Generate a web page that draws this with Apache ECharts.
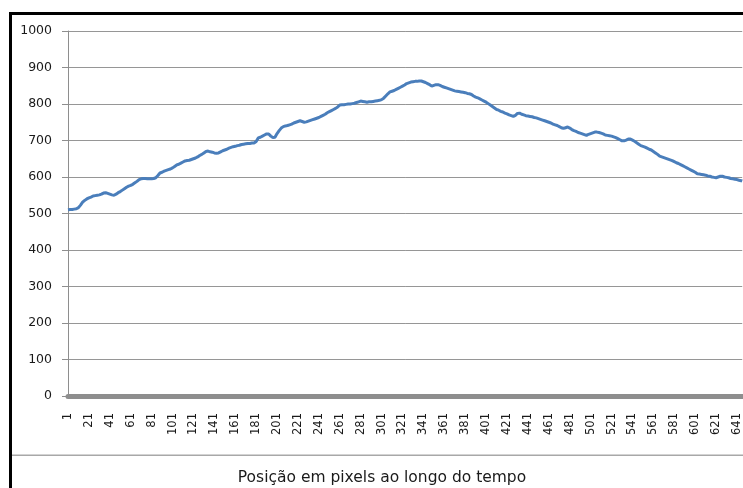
<!DOCTYPE html>
<html>
<head>
<meta charset="utf-8">
<style>
  html, body { margin: 0; padding: 0; background: #ffffff; }
  #chart { width: 743px; height: 488px; }
</style>
<script src="https://cdn.jsdelivr.net/npm/echarts@6/dist/echarts.min.js"></script>
</head>
<body>
<div id="chart"></div>
<script>
// Pixel position sampled at each time step (one value per frame, 646 frames)
const posicao = [
  510,510,511,511,511,512,512,512,513,514, 516,519,523,527,531,534,536,538,540,542,
  543,544,545,546,548,548,549,549,550,550, 551,552,553,555,556,557,557,556,555,554,
  553,552,551,550,550,551,553,555,557,558, 560,562,564,566,568,570,572,573,575,576,
  577,579,580,582,584,586,588,590,593,594, 595,595,596,596,596,596,595,595,595,595,
  595,596,596,597,598,601,604,608,611,612, 613,614,616,617,618,619,620,621,622,623,
  625,627,629,632,633,634,635,636,638,639, 641,643,644,644,645,645,646,647,648,649,
  650,651,652,654,655,657,659,660,662,664, 666,668,670,672,671,670,669,668,668,667,
  666,666,665,665,666,668,669,671,672,673, 674,675,676,678,679,680,681,682,683,683,
  684,685,686,687,687,688,689,690,690,691, 691,691,692,692,692,692,693,693,693,693,
  697,702,707,708,709,710,712,714,715,717, 718,719,718,716,712,710,708,705,709,714,
  719,723,727,731,734,737,738,739,740,740, 741,742,743,744,745,746,748,749,750,751,
  752,753,754,753,752,751,750,749,751,752, 753,754,755,756,757,758,759,760,761,762,
  763,764,766,767,769,771,772,774,776,777, 779,780,782,783,785,786,788,790,792,794,
  797,797,798,798,798,799,799,799,800,800, 800,800,801,801,802,803,804,805,806,807,
  808,808,807,807,806,806,805,805,806,806, 806,807,807,807,808,808,809,809,810,810,
  812,814,816,819,822,825,828,831,833,834, 835,836,837,838,840,841,843,844,846,847,
  849,850,852,854,856,857,858,859,860,860, 861,861,862,862,862,863,863,863,863,862,
  861,860,859,857,856,854,853,851,849,850, 851,852,853,854,853,852,851,850,848,847,
  846,845,844,843,842,841,840,839,838,837, 836,836,835,835,834,834,833,833,832,832,
  831,830,829,828,828,827,826,824,822,821, 819,818,817,815,814,812,811,809,808,806,
  805,803,801,799,797,795,793,791,789,787, 785,784,783,781,780,779,778,777,775,774,
  773,771,770,769,768,767,766,767,769,771, 774,776,775,774,772,771,770,769,768,768,
  767,767,766,765,765,764,763,763,762,761, 760,759,758,757,756,755,754,753,752,751,
  750,749,748,746,745,744,743,742,741,740, 738,736,735,733,733,734,735,736,737,736,
  734,732,730,728,727,726,725,724,722,721, 720,719,718,717,716,715,714,715,717,718,
  719,720,721,722,723,723,723,723,722,721, 720,719,718,716,715,715,714,714,713,713,
  712,711,710,709,708,706,705,703,702,700, 699,698,699,700,701,703,704,705,704,702,
  701,699,698,696,694,692,690,688,686,685, 684,683,682,680,679,677,676,675,674,672,
  670,668,666,664,662,660,657,656,655,654, 653,652,651,650,649,648,647,646,645,643,
  642,641,639,638,637,635,634,632,631,630, 628,627,625,624,622,621,619,618,616,614,
  613,611,609,608,608,607,607,606,606,605, 605,604,603,602,602,601,600,599,599,598,
  598,599,600,601,602,602,602,601,600,599, 599,598,598,597,596,596,595,595,594,593,
  593,592,591,590,590,589
];

// Frame numbers along the horizontal axis (1, 2, 3, ...)
const quadros = posicao.map((_, i) => String(i + 1));

// Vertical axis range
const yMin = 0;
const yMax = 1000;
const yStep = 100;

const legenda = 'Posição em pixels ao longo do tempo';

const chart = echarts.init(document.getElementById('chart'), null, { renderer: 'canvas' });

chart.setOption({
  backgroundColor: '#ffffff',
  animation: false,
  grid: { left: 68, top: 31, right: 0, bottom: 92, containLabel: false },
  xAxis: {
    type: 'category',
    data: quadros,
    boundaryGap: false,
    offset: 3,
    axisLine: { show: true, lineStyle: { color: '#8e8e8e', width: 5 } },
    axisTick: { show: false },
    splitLine: { show: false },
    axisLabel: {
      interval: 19,
      rotate: 90,
      margin: 14,
      color: '#1a1a1a',
      fontFamily: 'DejaVu Sans',
      fontSize: 11.5
    }
  },
  yAxis: {
    type: 'value',
    min: yMin,
    max: yMax,
    interval: yStep,
    axisLine: { show: true, lineStyle: { color: '#8e8e8e', width: 1 } },
    axisTick: { show: true, length: 6, lineStyle: { color: '#8e8e8e', width: 1 } },
    splitLine: { show: true, lineStyle: { color: '#969696', width: 1 } },
    axisLabel: {
      margin: 16,
      color: '#1a1a1a',
      fontFamily: 'DejaVu Sans',
      fontSize: 12.5,
      formatter: (v) => String(v)
    }
  },
  series: [{
    type: 'line',
    data: posicao,
    showSymbol: false,
    symbol: 'none',
    lineStyle: { color: '#4a7ebb', width: 3 },
    z: 5
  }],
  graphic: [
    // frame: heavy top and left edges
    { type: 'rect', shape: { x: 9, y: 12, width: 734, height: 3 }, style: { fill: '#000000' }, silent: true },
    { type: 'rect', shape: { x: 9, y: 12, width: 3, height: 476 }, style: { fill: '#000000' }, silent: true },
    // separator above the caption
    { type: 'rect', shape: { x: 12, y: 454.5, width: 731, height: 1.5 }, style: { fill: '#a8a8a8' }, silent: true },
    // caption
    {
      type: 'text', x: 382, y: 478,
      style: {
        text: legenda, fill: '#1a1a1a',
        font: '15.5px "DejaVu Sans"',
        textAlign: 'center', textVerticalAlign: 'middle'
      },
      silent: true
    }
  ]
});
</script>
</body>
</html>
